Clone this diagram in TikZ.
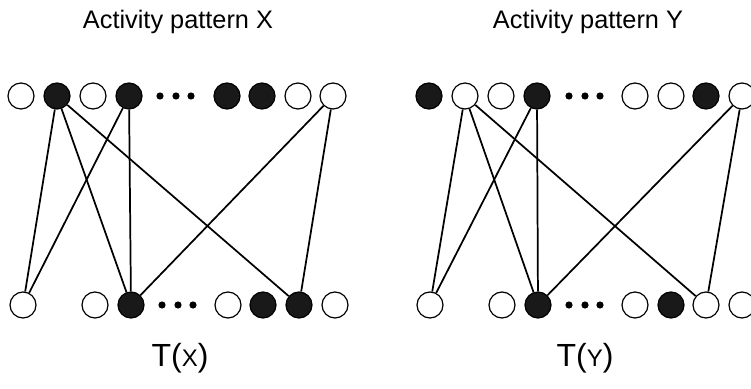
\documentclass[tikz,border=0pt]{standalone}
\usepackage{fontspec}
\setmainfont{Liberation Sans}
\begin{document}
\begin{tikzpicture}[x=.75pt,y=-.75pt,
inaktiv/.style={circle,draw=black,line width=.9pt,fill=white,minimum size=19.5pt,inner sep=0pt},
aktiv/.style={inaktiv,fill=black!90},
cim/.style={font=\fontsize{19}{22}\selectfont},
kep/.style={font=\fontsize{24}{27}\selectfont}]

\useasboundingbox (0,0) rectangle (751,389);

\pgfmathsetmacro{\fent}{96}
\pgfmathsetmacro{\lent}{305}

% bal oldal: X
\node[cim](cim-x) at (178,22){Activity pattern X};

\node[inaktiv](x1) at (21,\fent){};
\node[aktiv](x2) at (57,\fent){};
\node[inaktiv](x3) at (93,\fent){};
\node[aktiv](x4) at (129,\fent){};
\node[aktiv](x5) at (227,\fent){};
\node[aktiv](x6) at (262,\fent){};
\node[inaktiv](x7) at (298,\fent){};
\node[inaktiv](x8) at (333,\fent){};

\node[inaktiv](tx1) at (23,\lent){};
\node[inaktiv](tx2) at (95,\lent){};
\node[aktiv](tx3) at (131,\lent){};
\node[inaktiv](tx4) at (228,\lent){};
\node[aktiv](tx5) at (263,\lent){};
\node[aktiv](tx6) at (299,\lent){};
\node[inaktiv](tx7) at (335,\lent){};

\fill (160,\fent) circle (2.7pt) (176,\fent) circle (2.7pt) (191,\fent) circle (2.7pt);
\fill (162,\lent) circle (2.7pt) (178,\lent) circle (2.7pt) (193,\lent) circle (2.7pt);

\node[kep](kep-x) at (180,358){T({\fontsize{18}{20}\selectfont X})};

\begin{scope}[line width=1.3pt]
\draw (x2)--(tx1);
\draw (x2)--(tx3);
\draw (x2)--(tx6);
\draw (x4)--(tx1);
\draw (x4)--(tx3);
\draw (x8)--(tx3);
\draw (x8)--(tx6);
\end{scope}

% jobb oldal: Y
\node[cim](cim-y) at (588,22){Activity pattern Y};

\node[aktiv](y1) at (429,\fent){};
\node[inaktiv](y2) at (465,\fent){};
\node[inaktiv](y3) at (501,\fent){};
\node[aktiv](y4) at (537,\fent){};
\node[inaktiv](y5) at (635,\fent){};
\node[inaktiv](y6) at (671,\fent){};
\node[aktiv](y7) at (706,\fent){};
\node[inaktiv](y8) at (742,\fent){};

\node[inaktiv](ty1) at (430,\lent){};
\node[inaktiv](ty2) at (502,\lent){};
\node[aktiv](ty3) at (538,\lent){};
\node[inaktiv](ty4) at (635,\lent){};
\node[aktiv](ty5) at (671,\lent){};
\node[inaktiv](ty6) at (706,\lent){};
\node[inaktiv](ty7) at (742,\lent){};

\fill (569,\fent) circle (2.7pt) (585,\fent) circle (2.7pt) (600,\fent) circle (2.7pt);
\fill (569,\lent) circle (2.7pt) (585,\lent) circle (2.7pt) (600,\lent) circle (2.7pt);

\node[kep](kep-y) at (585,358){T({\fontsize{18}{20}\selectfont Y})};

\begin{scope}[line width=1.3pt]
\draw (y2)--(ty1);
\draw (y2)--(ty3);
\draw (y2)--(ty6);
\draw (y4)--(ty1);
\draw (y4)--(ty3);
\draw (y8)--(ty3);
\draw (y8)--(ty6);
\end{scope}

\end{tikzpicture}
\end{document}
